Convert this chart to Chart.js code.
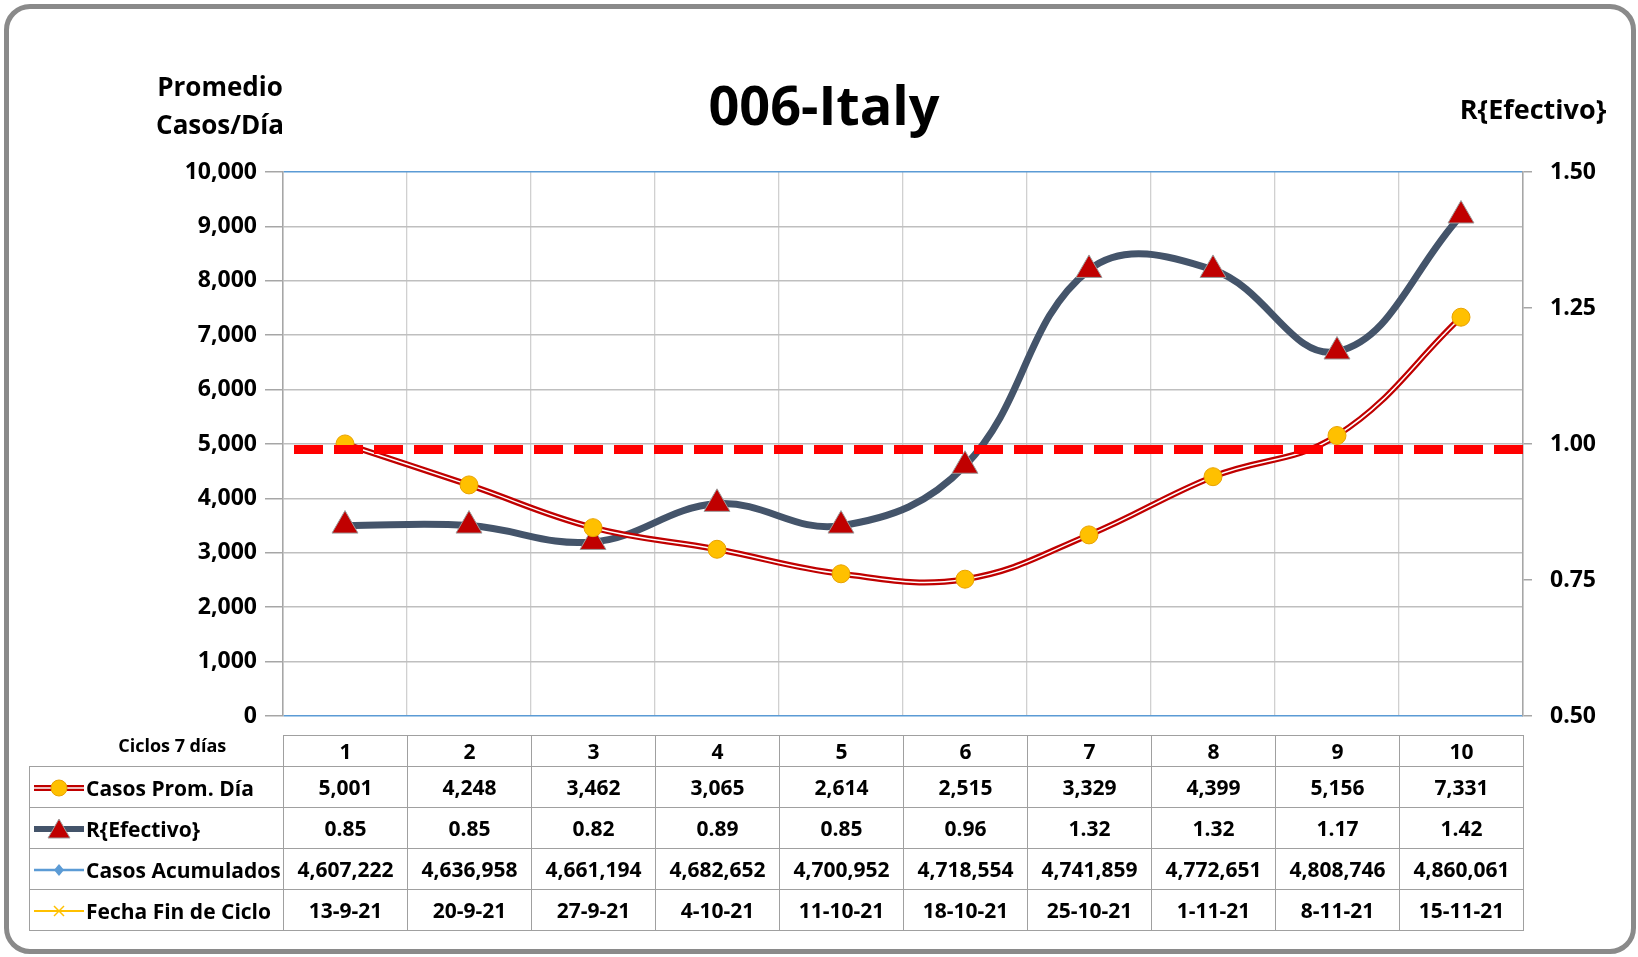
<!DOCTYPE html>
<html>
<head>
<meta charset="utf-8">
<script src="https://cdn.jsdelivr.net/npm/chart.js@4.4.0/dist/chart.umd.min.js"></script>
<style>
  body { margin: 0; background: #fff; font-family: 'Open Sans', 'Noto Sans', sans-serif; }
  #wrap { position: relative; width: 1638px; height: 957px; overflow: hidden; background: #fff; }
  #frame { position: absolute; left: 4px; top: 4px; width: 1632px; height: 950px; box-sizing: border-box;
           border: 5px solid #8a8a8a; border-radius: 26px; }
  #chart { position: absolute; left: 0; top: 0; }
  .txt { position: absolute; font-weight: 700; color: #000; white-space: nowrap; text-align: center; }
  #title { left: 424px; width: 800px; top: 77px; font-size: 54px; line-height: 54px; }
  #ytitle { left: 120px; width: 200px; top: 67px; font-size: 26px; line-height: 38px; }
  #y1title { left: 1433px; width: 200px; top: 95px; font-size: 27px; line-height: 27px; }
  #table { position: absolute; left: 29px; top: 735px; border-collapse: collapse; table-layout: fixed;
           font-weight: 700; font-size: 21px; color: #000; }
  #table td { border: 1.5px solid #a0a0a0; text-align: center; padding: 0; height: 40px; white-space: nowrap; }
  #table tr.head td { height: 30px; }
  #table td.corner { border: none; font-size: 18px; line-height: 18px; vertical-align: top; padding-left: 32px; }
  #table td.lbl { text-align: left; }
  #table td.lbl svg { vertical-align: middle; margin-left: 3px; margin-right: 1px; }
  #table td.lbl span { vertical-align: middle; }
</style>
</head>
<body>
<div id="wrap">
  <div id="frame"></div>
  <canvas id="chart" width="1638" height="957"></canvas>
  <div class="txt" id="title">006-Italy</div>
  <div class="txt" id="ytitle">Promedio<br>Casos/Día</div>
  <div class="txt" id="y1title">R{Efectivo}</div>
  <table id="table"></table>
</div>
<script>
// chart data
const cycles = [1, 2, 3, 4, 5, 6, 7, 8, 9, 10];
const casosProm = [5001, 4248, 3462, 3065, 2614, 2515, 3329, 4399, 5156, 7331];
const rEfectivo = [0.85, 0.85, 0.82, 0.89, 0.85, 0.96, 1.32, 1.32, 1.17, 1.42];
const casosAcum = [4607222, 4636958, 4661194, 4682652, 4700952, 4718554, 4741859, 4772651, 4808746, 4860061];
const fechaFin = ['13-9-21', '20-9-21', '27-9-21', '4-10-21', '11-10-21', '18-10-21', '25-10-21', '1-11-21', '8-11-21', '15-11-21'];
const refR = 0.99; // dashed R = 1 reference line

const FONT = "'Open Sans', 'Noto Sans', sans-serif";
const fmt = v => v.toLocaleString('en-US');

// data table under the plot
const icons = {
  casos: `<svg width="52" height="22"><line x1="1" y1="11" x2="51" y2="11" stroke="#C00000" stroke-width="6"/>
          <line x1="1" y1="11" x2="51" y2="11" stroke="#fff" stroke-width="1.5"/>
          <circle cx="26" cy="11" r="8" fill="#FFC000" stroke="#E8A200" stroke-width="1"/></svg>`,
  r: `<svg width="52" height="22"><line x1="1" y1="11" x2="51" y2="11" stroke="#44546A" stroke-width="6"/>
      <polygon points="26,1 37,20 15,20" fill="#C00000" stroke="#9c9c9c" stroke-width="1"/></svg>`,
  acum: `<svg width="52" height="22"><line x1="1" y1="11" x2="51" y2="11" stroke="#5B9BD5" stroke-width="2.5"/>
         <polygon points="26,5 31,11 26,17 21,11" fill="#5B9BD5"/></svg>`,
  fecha: `<svg width="52" height="22"><line x1="1" y1="11" x2="51" y2="11" stroke="#FFC000" stroke-width="2"/>
          <line x1="21" y1="6" x2="31" y2="16" stroke="#FFC000" stroke-width="1.5"/>
          <line x1="21" y1="16" x2="31" y2="6" stroke="#FFC000" stroke-width="1.5"/></svg>`
};
const rows = [
  { icon: icons.casos, label: 'Casos Prom. Día', vals: casosProm.map(fmt) },
  { icon: icons.r, label: 'R{Efectivo}', vals: rEfectivo.map(v => v.toFixed(2)) },
  { icon: icons.acum, label: 'Casos Acumulados', vals: casosAcum.map(fmt) },
  { icon: icons.fecha, label: 'Fecha Fin de Ciclo', vals: fechaFin }
];
let html = '<colgroup><col style="width:254px">' + cycles.map(() => '<col style="width:124px">').join('') + '</colgroup>';
html += '<tr class="head"><td class="corner">Ciclos 7 días</td>' + cycles.map(c => `<td>${c}</td>`).join('') + '</tr>';
rows.forEach(r => {
  html += `<tr><td class="lbl">${r.icon}<span>${r.label}</span></td>` + r.vals.map(v => `<td>${v}</td>`).join('') + '</tr>';
});
document.getElementById('table').innerHTML = html;

// chart
const toXY = arr => arr.map((v, i) => ({ x: cycles[i], y: v }));
const bounds = cycles.map(c => c - 0.5).concat([cycles[cycles.length - 1] + 0.5]);

new Chart(document.getElementById('chart'), {
  type: 'line',
  data: {
    datasets: [
      {
        label: 'R = 1',
        data: [{ x: bounds[0], y: refR }, { x: bounds[bounds.length - 1], y: refR }],
        yAxisID: 'y1', order: 0,
        borderColor: '#FF0000', borderWidth: 9, borderDash: [29, 11], borderDashOffset: 29,
        borderCapStyle: 'butt', pointRadius: 0
      },
      {
        label: 'Casos Prom. Día',
        data: toXY(casosProm), yAxisID: 'y', order: 1,
        borderColor: '#FFFFFF', borderWidth: 1.5, tension: 0.4,
        pointRadius: 9, pointBackgroundColor: '#FFC000', pointBorderColor: '#E8A200', pointBorderWidth: 1
      },
      {
        label: 'Casos Prom. Día (outline)',
        data: toXY(casosProm), yAxisID: 'y', order: 2,
        borderColor: '#C00000', borderWidth: 6, tension: 0.4, pointRadius: 0
      },
      {
        label: 'R{Efectivo}',
        data: toXY(rEfectivo), yAxisID: 'y1', order: 3,
        borderColor: '#44546A', borderWidth: 7, tension: 0.4,
        pointStyle: 'triangle', pointRadius: 15,
        pointBackgroundColor: '#C00000', pointBorderColor: '#9c9c9c', pointBorderWidth: 1
      }
    ]
  },
  options: {
    responsive: false,
    animation: false,
    devicePixelRatio: 1,
    layout: { padding: { left: 0, right: 0, top: 172, bottom: 241 } },
    plugins: { legend: { display: false }, tooltip: { enabled: false }, title: { display: false } },
    scales: {
      x: {
        type: 'linear', min: bounds[0], max: bounds[bounds.length - 1],
        afterBuildTicks: s => { s.ticks = bounds.map(v => ({ value: v })); },
        afterFit: s => { s.height = 0; },
        ticks: { display: false },
        grid: { color: '#D0D0D0', lineWidth: 1.3, drawTicks: false },
        border: { display: false }
      },
      y: {
        position: 'left', min: 0, max: 10000,
        afterFit: s => { s.width = 283; },
        ticks: { stepSize: 1000, padding: 8, color: '#000', font: { family: FONT, size: 23, weight: 'bold' },
                 callback: v => fmt(v) },
        grid: {
          color: c => (c.tick && (c.tick.value === 0 || c.tick.value === 10000)) ? '#5B9BD5' : '#BFBFBF',
          lineWidth: 1.5, tickLength: 18, tickColor: '#A6A6A6'
        },
        border: { color: '#A6A6A6', width: 1.5 }
      },
      y1: {
        position: 'right', min: 0.5, max: 1.5,
        afterFit: s => { s.width = 115; },
        ticks: { stepSize: 0.25, padding: 18, color: '#000', font: { family: FONT, size: 23, weight: 'bold' },
                 callback: v => v.toFixed(2) },
        grid: { drawOnChartArea: false, tickLength: 9, tickColor: '#A6A6A6', lineWidth: 1.5 },
        border: { color: '#A6A6A6', width: 1.5 }
      }
    }
  }
});
</script>
</body>
</html>
